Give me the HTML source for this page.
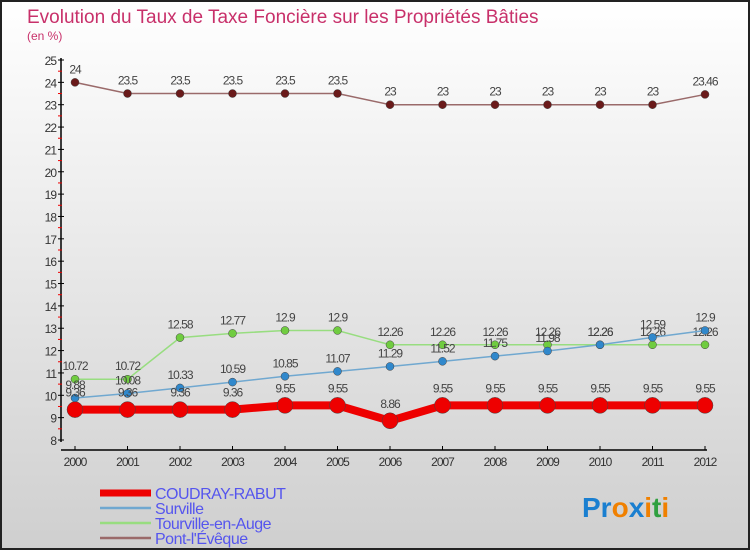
<!DOCTYPE html>
<html><head><meta charset="utf-8"><style>
body{margin:0;width:750px;height:550px;overflow:hidden}
svg{display:block;font-family:"Liberation Sans",sans-serif}
</style></head><body>
<svg width="750" height="550">
<defs><linearGradient id="bg" x1="0" y1="0" x2="0" y2="1"><stop offset="0" stop-color="#ffffff"/><stop offset="1" stop-color="#cfcfcf"/></linearGradient></defs>
<rect x="1" y="1" width="748" height="548" fill="url(#bg)" stroke="#222" stroke-width="2"/>
<text x="27" y="23" font-size="19" fill="#c8306a">Evolution du Taux de Taxe Foncière sur les Propriétés Bâties</text>
<text x="27" y="40" font-size="12" fill="#c8306a">(en %)</text>
<g id="axes"></g><g id="series"></g><g id="legend"></g>
<text x="582" y="517" font-size="28" font-weight="bold"><tspan fill="#1a7fd0">Pr</tspan><tspan fill="#f08000">o</tspan><tspan fill="#1a7fd0">x</tspan><tspan fill="#f08000">i</tspan><tspan fill="#30a040">t</tspan><tspan fill="#f08000">i</tspan></text>
</svg>
<script>
const years=[2000,2001,2002,2003,2004,2005,2006,2007,2008,2009,2010,2011,2012];
const yTicks=[8,9,10,11,12,13,14,15,16,17,18,19,20,21,22,23,24,25];
const coudray=[9.36,9.36,9.36,9.36,9.55,9.55,8.86,9.55,9.55,9.55,9.55,9.55,9.55];
const surville=[9.88,10.08,10.33,10.59,10.85,11.07,11.29,11.52,11.75,11.98,12.26,12.59,12.9];
const tourville=[10.72,10.72,12.58,12.77,12.9,12.9,12.26,12.26,12.26,12.26,12.26,12.26,12.26];
const pont=[24,23.5,23.5,23.5,23.5,23.5,23,23,23,23,23,23,23.46];
const NS='http://www.w3.org/2000/svg';
const X=i=>75+i*52.5, Y=v=>440-(v-8)*(380/17);
function mk(t,a,p){const e=document.createElementNS(NS,t);for(const k in a)e.setAttribute(k,a[k]);(p||document.getElementById('series')).appendChild(e);return e;}
const ax=document.getElementById('axes');
let e=mk('line',{x1:61,y1:58,x2:61,y2:442,stroke:'#000','stroke-width':1.5},ax);

e=mk('line',{x1:61,y1:450,x2:707,y2:450,stroke:'#000','stroke-width':1.5},ax);

yTicks.forEach(v=>{mk('line',{x1:58,y1:Y(v),x2:64,y2:Y(v),stroke:'#000'},ax);
 if(v<25)mk('line',{x1:58,y1:Y(v+0.5),x2:62,y2:Y(v+0.5),stroke:'#e00'},ax);
 const t=mk('text',{x:56,y:Y(v)+5,'text-anchor':'end','font-size':12,fill:'#333','letter-spacing':'-1'},ax);t.textContent=v;
 });
years.forEach((y,i)=>{mk('line',{x1:X(i),y1:446,x2:X(i),y2:450,stroke:'#000'},ax);
 const t=mk('text',{x:X(i),y:466,'text-anchor':'middle','font-size':12,fill:'#333','letter-spacing':'-1'},ax);t.textContent=y;
 });
const series=[
 {n:'pont',d:pont,c:'#9a6a6a',pc:'#6a1a1a',w:1.5,r:4,label:'Pont-l\'Évêque'},
 {n:'tourville',d:tourville,c:'#98dd80',pc:'#70cc40',w:1.5,r:4,label:'Tourville-en-Auge'},
 {n:'surville',d:surville,c:'#70a8d0',pc:'#3088cc',w:1.5,r:4,label:'Surville'},
 {n:'coudray',d:coudray,c:'#ee0000',pc:'#ee0000',w:8,r:8,label:'COUDRAY-RABUT'}];
series.forEach(s=>{
 const l=mk('polyline',{points:s.d.map((v,i)=>X(i)+','+Y(v)).join(' '),fill:'none',stroke:s.c,'stroke-width':s.w});
 
 s.d.forEach((v,i)=>{const c=mk('circle',{cx:X(i),cy:Y(v),r:s.r,fill:s.pc,stroke:'#444','stroke-width':0.5});
  
  const t=mk('text',{x:X(i),y:Y(v)-(s.r+5),'text-anchor':'middle','font-size':12,fill:'#444','letter-spacing':'-1'});
  t.textContent=String(v);});
});
const lg=document.getElementById('legend');
[series[3],series[2],series[1],series[0]].forEach((s,i)=>{const y=493+i*15;
 const l=mk('line',{x1:100,y1:y,x2:151,y2:y,stroke:s.c,'stroke-width':s.n=='coudray'?7:2.5},lg);
 
 const t=mk('text',{x:155,y:y+6,'font-size':16,fill:'#5555ee','letter-spacing':'-0.5'},lg);t.textContent=s.label;
 });
</script>
</body></html>
